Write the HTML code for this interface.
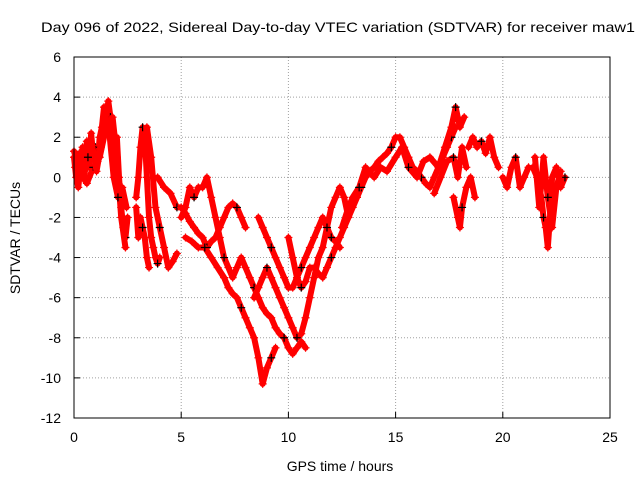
<!DOCTYPE html>
<html><head><meta charset="utf-8"><style>
body{margin:0;background:#fff}
svg{display:block;font-family:"Liberation Sans",sans-serif}
</style></head><body>
<svg id="chart" width="640" height="480">
<rect width="640" height="480" fill="#fff"/>
<text x="338" y="32" text-anchor="middle" font-size="14" textLength="594" lengthAdjust="spacingAndGlyphs">Day 096 of 2022, Sidereal Day-to-day VTEC variation (SDTVAR) for receiver maw1</text>
<text x="340" y="471" text-anchor="middle" font-size="14">GPS time / hours</text>
<text transform="translate(20,238) rotate(-90)" text-anchor="middle" font-size="14">SDTVAR / TECUs</text>
<g id="grid"></g><g id="ticks"></g><g id="series"></g>
<rect x="74" y="57" width="536" height="361" fill="none" stroke="#000" stroke-width="1"/>
</svg>
<script>
const xTicks=[0,5,10,15,20,25];
const yTicks=[6,4,2,0,-2,-4,-6,-8,-10,-12];
const tracks=[
[[0,1],[0.1,0],[0.2,-0.5],[0.3,0.5],[0.4,1.5],[0.5,0.5],[0.6,1.8],[0.7,0.5],[0.8,2.2],[0.9,1],[1.0,1.5],[1.1,0.8],[1.2,2],[1.3,2.5],[1.4,3.5],[1.5,2.8],[1.6,3.8],[1.7,3],[1.8,2],[1.9,1],[2.0,2],[2.1,0],[2.2,-1.5],[2.3,-2.5],[2.4,-3],[2.5,-2]],
[[0,1.3],[0.3,0.2],[0.6,-0.3],[0.9,0.5],[1.2,1],[1.5,2.5],[1.8,3],[2.0,1],[2.2,-2],[2.4,-3.5]],
[[0.05,0.5],[0.25,1.2],[0.45,0],[0.65,1],[0.85,1.6],[1.05,0.3],[1.25,1.5],[1.45,3],[1.65,2.2],[1.85,0],[2.05,-1],[2.25,-0.5],[2.45,-1.5]],
[[2.9,-1],[3.0,0],[3.1,1.5],[3.2,2.5],[3.3,2],[3.4,0],[3.5,-2],[3.6,-3],[3.7,-3.5],[3.8,-4],[3.9,-4.3],[4.0,-4]],
[[2.9,-1.5],[3.0,-3],[3.1,-2],[3.2,-2.5],[3.3,-3],[3.4,-4],[3.5,-4.5]],
[[3.4,2.5],[3.6,1],[3.8,-1.5],[4.0,-2.5],[4.2,-3.5],[4.4,-4.5],[4.6,-4.2],[4.8,-3.8]],
[[3.9,0],[4.2,-0.5],[4.5,-0.8],[4.8,-1.5],[5.0,-1.5],[5.2,-1.8],[5.4,-2.2],[5.6,-2.5],[5.8,-2.8],[6.0,-3],[6.2,-3.5],[6.4,-3.2],[6.6,-3],[6.8,-2.5],[7.0,-2],[7.2,-1.5],[7.4,-1.3],[7.6,-1.5],[7.8,-2],[8.0,-2.5]],
[[5.0,-2],[5.2,-1.5],[5.4,-0.5],[5.6,-1],[5.8,-0.5],[6.0,-0.5],[6.2,0],[6.4,-1],[6.6,-2],[6.8,-3],[7.0,-4],[7.2,-4.5],[7.4,-5],[7.6,-4.5],[7.8,-4],[8.0,-4.5],[8.2,-5],[8.4,-5.5],[8.6,-6],[8.8,-6.5],[9.0,-6.8],[9.2,-7],[9.4,-7.5],[9.6,-7.8],[9.8,-8],[10.0,-8.5],[10.2,-8.8],[10.4,-8.5],[10.6,-8.2],[10.8,-8.5]],
[[5.2,-3],[5.5,-3.2],[5.8,-3.5],[6.1,-3.5],[6.4,-4],[6.7,-4.5],[7.0,-5],[7.2,-5.5],[7.4,-5.8],[7.6,-6],[7.8,-6.5],[8.0,-7],[8.2,-7.5],[8.4,-8],[8.6,-9],[8.8,-10.3],[9.0,-9.5],[9.2,-9],[9.4,-8.5]],
[[8.6,-2],[8.8,-2.5],[9.0,-3],[9.2,-3.5],[9.4,-4],[9.6,-4.5],[9.8,-5],[10.0,-5.5],[10.2,-5.5],[10.4,-5],[10.6,-4.5],[10.8,-4],[11.0,-3.5],[11.2,-3],[11.4,-2.5],[11.6,-2],[11.8,-2.5],[12.0,-3],[12.2,-3.2],[12.4,-3.5]],
[[8.4,-6],[8.6,-5.5],[8.8,-5],[9.0,-4.5],[9.2,-5],[9.4,-5.5],[9.6,-6],[9.8,-6.5],[10.0,-7],[10.2,-7.5],[10.4,-8],[10.6,-7.8],[10.8,-7],[11.0,-6],[11.2,-5],[11.4,-4],[11.6,-3.5],[11.8,-2.5],[12.0,-1.5],[12.2,-1],[12.4,-0.5],[12.6,-1],[12.8,-2]],
[[10.0,-3],[10.2,-4],[10.4,-5],[10.6,-5.5],[10.8,-5.2],[11.0,-4.5],[11.2,-4.5],[11.4,-4.8],[11.6,-5],[11.8,-4.5],[12.0,-4],[12.2,-3.5],[12.4,-3],[12.6,-2.5],[12.8,-2],[13.0,-1.5],[13.2,-1],[13.4,-0.5],[13.6,0],[13.8,0.3],[14.0,0.5],[14.2,0.8],[14.4,1],[14.6,1.2],[14.8,1.5],[15.0,2],[15.2,2],[15.4,1.5],[15.6,1],[15.8,0.5],[16.0,0.3],[16.2,0],[16.4,-0.3],[16.6,-0.5],[16.8,0],[17.0,0.5],[17.2,1],[17.4,1.5],[17.6,2],[17.8,2.5]],
[[12.5,-2.5],[12.8,-1.5],[13.0,-1],[13.3,-0.5],[13.6,0.5],[14.0,0],[14.3,0.5],[14.6,0.3],[15.0,1],[15.3,1.5],[15.6,0.5],[16.0,0],[16.3,0.8],[16.6,1],[17.0,0.5],[17.3,1.5],[17.6,2.5],[17.8,3.5],[18.0,2.5],[18.2,3]],
[[16.8,-0.8],[17.1,0],[17.4,0.8],[17.7,1],[17.9,0],[18.1,1.5],[18.3,0.5]],
[[17.7,-1],[17.9,-2],[18.0,-2.5],[18.1,-1.5],[18.3,-0.5],[18.5,0],[18.7,-1]],
[[18.4,1.5],[18.6,2],[18.8,1.5],[19.0,1.8],[19.2,1.2],[19.4,2],[19.6,1],[19.8,0.5]],
[[20.0,0],[20.2,-0.5],[20.4,0.5],[20.6,1],[20.8,-0.5],[21.0,0],[21.2,0.5]],
[[21.4,0.5],[21.6,0],[21.8,-1],[21.9,-2],[22.0,-2.5],[22.1,-3.5],[22.2,-2],[22.3,0],[22.5,0.5],[22.7,-0.5],[22.9,0]],
[[21.5,1],[21.7,-1.5],[21.9,1],[22.1,-1],[22.3,-2.5],[22.5,-0.5],[22.7,0.3]]
];
const NS="http://www.w3.org/2000/svg";
const X0=74,X1=610,Y0=418,Y1=57,xMin=0,xMax=25,yMin=-12,yMax=6;
function sx(v){return X0+(v-xMin)/(xMax-xMin)*(X1-X0);}
function sy(v){return Y0-(v-yMin)/(yMax-yMin)*(Y0-Y1);}
function mk(tag,a,parent){const e=document.createElementNS(NS,tag);for(const k in a)e.setAttribute(k,a[k]);parent.appendChild(e);return e;}
const grid=document.getElementById('grid'),ticks=document.getElementById('ticks'),series=document.getElementById('series');
xTicks.forEach(t=>{const x=sx(t);
 if(t>xMin&&t<xMax){const g=mk('line',{x1:x,x2:x,y1:Y0,y2:Y1,stroke:'#a0a0a0','stroke-dasharray':'1,2'},grid);
 
 }
 const tk=mk('line',{x1:x,x2:x,y1:Y0,y2:Y0-6,stroke:'#000'},ticks);
 
 
 const l=mk('text',{x:x,y:Y0+24,'text-anchor':'middle','font-size':14},ticks);l.textContent=t;
 
 });
yTicks.forEach(t=>{const y=sy(t);
 if(t>yMin&&t<yMax){const g=mk('line',{x1:X0,x2:X1,y1:y,y2:y,stroke:'#a0a0a0','stroke-dasharray':'1,2'},grid);
 
 }
 const tk=mk('line',{x1:X0,x2:X0+6,y1:y,y2:y,stroke:'#000'},ticks);
 
 
 const l=mk('text',{x:X0-13,y:y+5,'text-anchor':'end','font-size':14},ticks);l.textContent=t;
 
 });
tracks.forEach(tr=>{
 const pl=mk('polyline',{points:tr.map(p=>sx(p[0])+','+sy(p[1])).join(' '),fill:'none',stroke:'#f00','stroke-width':6,'stroke-linejoin':'round','stroke-linecap':'round'},series);
 
 
 tr.forEach((p,i)=>{const x=sx(p[0]),y=sy(p[1]);const c=(i%7==3)?'#000':'#f00';
  const m=mk('path',{d:`M${x-4},${y}h8M${x},${y-4}v8`,stroke:c,'stroke-width':1.2},series);
  
  });
});
</script>
</body></html>
